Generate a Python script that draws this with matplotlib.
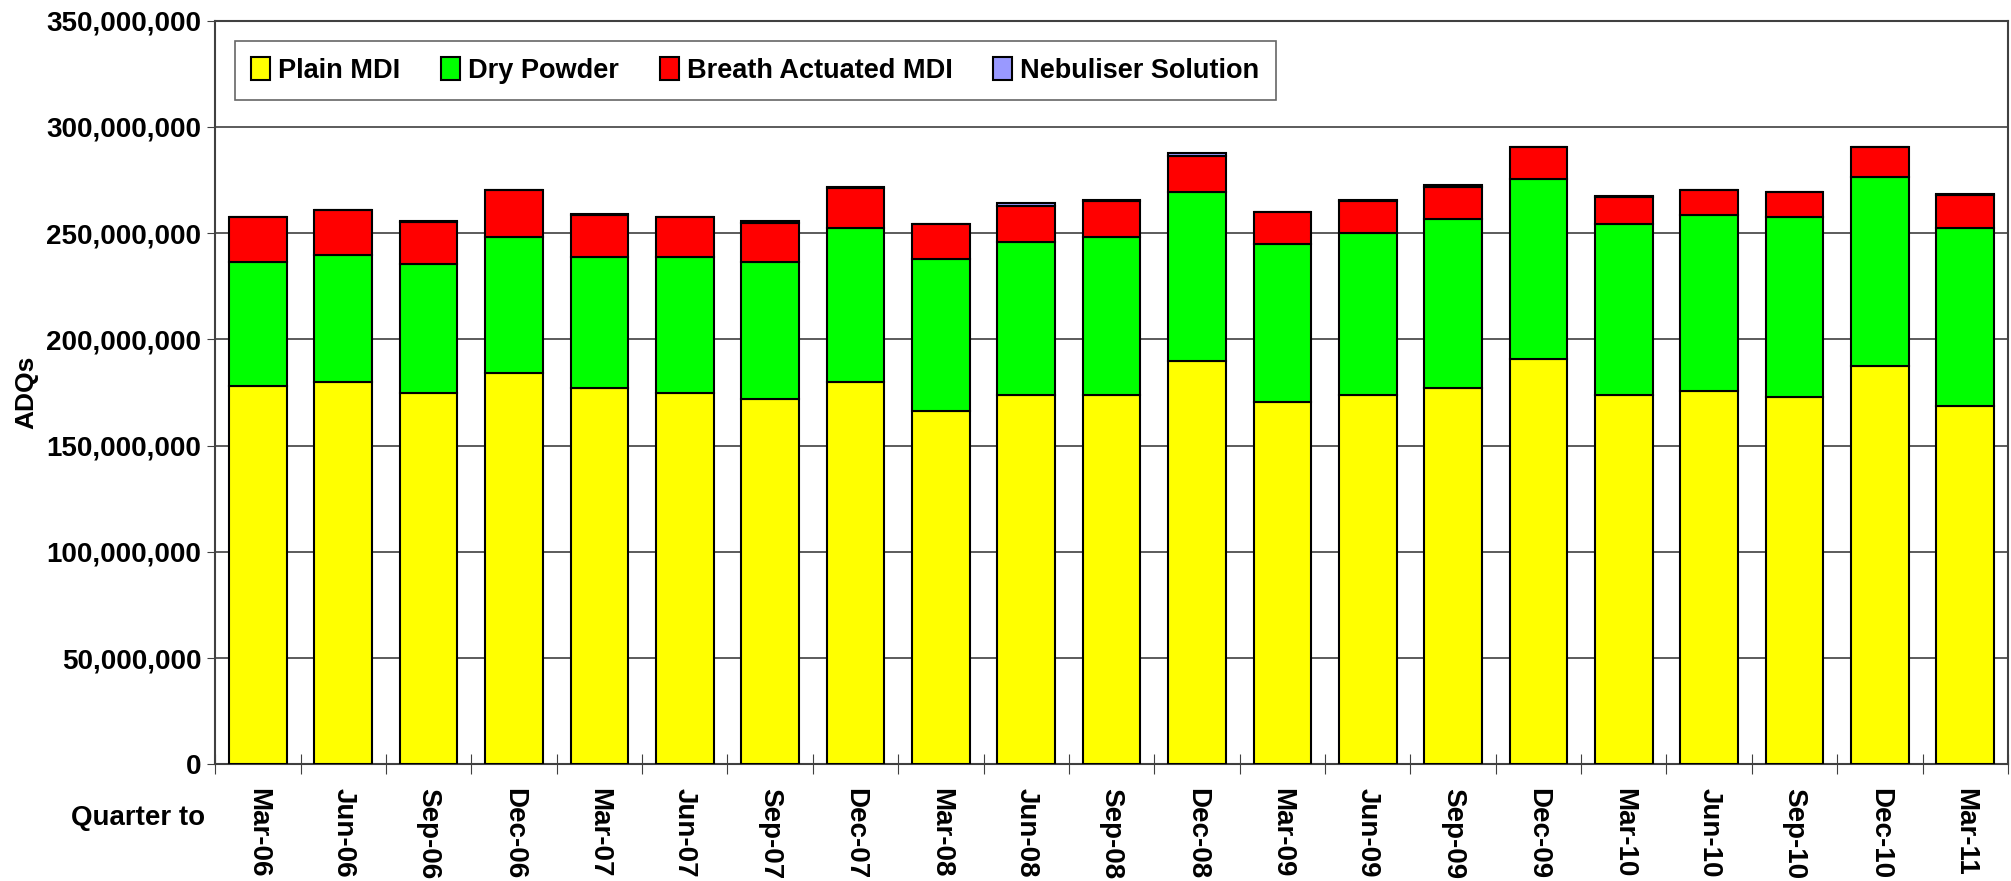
import numpy as np
import matplotlib
matplotlib.use('Agg')
import matplotlib.pyplot as plt
from matplotlib.ticker import FuncFormatter, FixedLocator

plt.rcParams['font.family'] = ['Liberation Sans', 'DejaVu Sans']
plt.rcParams['font.weight'] = 'bold'

quarters = ['Mar-06', 'Jun-06', 'Sep-06', 'Dec-06', 'Mar-07', 'Jun-07', 'Sep-07',
            'Dec-07', 'Mar-08', 'Jun-08', 'Sep-08', 'Dec-08', 'Mar-09', 'Jun-09',
            'Sep-09', 'Dec-09', 'Mar-10', 'Jun-10', 'Sep-10', 'Dec-10', 'Mar-11']

# values in millions of ADQs
plain_mdi = [178.1, 180.1, 174.9, 184.3, 177.0, 174.9, 171.8, 180.1, 166.4, 173.8, 173.8,
             189.8, 170.5, 173.8, 177.0, 190.8, 173.8, 175.9, 172.7, 187.6, 168.6]
dry_powder = [58.2, 59.5, 60.6, 63.9, 61.6, 63.7, 64.6, 72.3, 71.3, 72.2, 74.5,
              79.4, 74.4, 76.4, 79.5, 84.8, 80.5, 82.6, 84.9, 89.0, 83.7]
breath_mdi = [21.3, 21.1, 19.8, 22.1, 20.0, 18.8, 18.2, 19.0, 16.6, 17.0, 16.9,
              17.3, 14.9, 15.0, 15.1, 14.8, 12.9, 11.8, 11.6, 13.8, 15.8]
nebuliser = [0.2, 0.2, 0.2, 0.2, 0.2, 0.2, 1.0, 0.2, 0.2, 1.1, 0.2,
             1.1, 0.2, 0.2, 1.0, 0.2, 0.2, 0.2, 0.2, 0.2, 0.2]

series = [('Plain MDI', plain_mdi, '#FFFF00'),
          ('Dry Powder', dry_powder, '#00FF00'),
          ('Breath Actuated MDI', breath_mdi, '#FF0000'),
          ('Nebuliser Solution', nebuliser, '#9999FF')]

fig = plt.figure(figsize=(20.11, 8.81), dpi=100)
ax = fig.add_axes([0.107, 0.1325, 0.8915, 0.844])

x = np.arange(len(quarters))
bottom = np.zeros(len(quarters))
for name, vals, col in series:
    v = np.array(vals) * 1e6
    ax.bar(x, v, 0.675, bottom=bottom, color=col, edgecolor='black', linewidth=1.5,
           label=name, zorder=3)
    bottom += v

ax.set_ylim(0, 350e6)
ax.set_xlim(-0.5, len(quarters) - 0.5)
ax.set_yticks(np.arange(0, 350e6 + 1, 50e6))
ax.yaxis.set_major_formatter(FuncFormatter(lambda v, p: f'{v:,.0f}'))
ax.grid(axis='y', color='#404040', linewidth=1.2, zorder=0)

ax.xaxis.set_major_locator(FixedLocator(np.arange(-0.5, len(quarters), 1)))
ax.xaxis.set_major_formatter(FuncFormatter(lambda v, p: ''))
ax.xaxis.set_minor_locator(FixedLocator(x))
ax.set_xticklabels(quarters, minor=True, rotation=270, fontsize=20, fontweight='bold',
                   va='top', ha='center')
ax.tick_params(axis='x', which='major', direction='inout', length=14, color='#404040')
ax.tick_params(axis='x', which='minor', length=0, pad=17)
ax.tick_params(axis='y', direction='out', length=6, color='#404040', labelsize=20, pad=4)

for s in ax.spines.values():
    s.set_color('#404040')
    s.set_linewidth(1.5)

ax.set_ylabel('ADQs', fontsize=19, fontweight='bold', labelpad=6)
fig.text(138 / 2011, 1 - 818 / 881, 'Quarter to', fontsize=20, fontweight='bold',
         ha='center', va='center')

leg = ax.legend(loc='upper left', bbox_to_anchor=(0.011, 0.9727), ncol=4, fontsize=19.5,
                frameon=True, fancybox=False, borderaxespad=0, handlelength=0.7,
                handleheight=0.9, handletextpad=0.3, columnspacing=1.5, borderpad=0.6)
leg.get_frame().set_edgecolor('#404040')
leg.get_frame().set_linewidth(1.2)

fig.savefig('out.png', dpi=100)
